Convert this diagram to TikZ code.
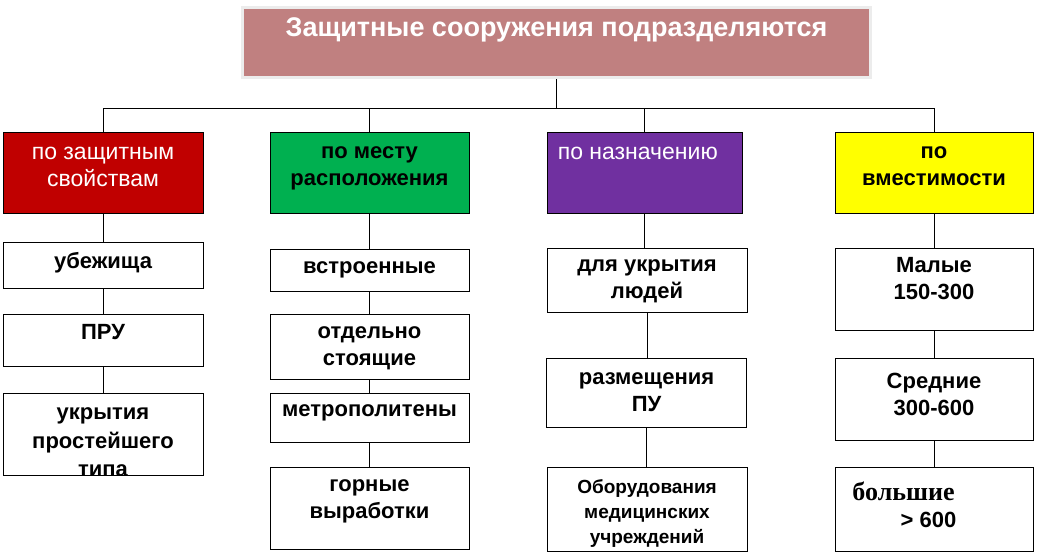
\documentclass[tikz,border=0pt]{standalone}
\usepackage{fontspec}
\setmainfont{Liberation Sans}
\newfontfamily\serifcyr{Liberation Serif}
\usetikzlibrary{positioning}
\definecolor{titlered}{HTML}{C08080}
\definecolor{hdred}{HTML}{C00000}
\definecolor{hdgreen}{HTML}{00B050}
\definecolor{hdpurple}{HTML}{7030A0}
\definecolor{hdyellow}{HTML}{FFFF00}

\begin{document}
\begin{tikzpicture}[x=1pt, y=-1pt,
	box/.style={draw, line width=0.8pt, minimum width=200pt, inner sep=0pt},
	txt/.style={align=center, inner sep=0pt, font=\bfseries\fontsize{22}{27}\selectfont},
	head/.style={align=center, inner sep=0pt, text=white, font=\fontsize{23}{27}\selectfont},
	link/.style={line width=0.8pt}]
		\useasboundingbox (0,0) rectangle (1037,552);
%		title
		\node[draw=gray!15, line width=3pt, fill=titlered, minimum width=628pt, minimum height=70pt] (title) at (556.5,42.5) {};
		\node[below=11pt of title.north, inner sep=0pt, text=white, font=\bfseries\fontsize{27}{32}\selectfont] (title-t) {Защитные сооружения подразделяются};
%		groups
		\node[box, fill=hdred, minimum height=81pt] (prot) at (103,172.5) {};
		\node[head, below=15pt of prot.north] (prot-t) {по защитным\\свойствам};
		\node[box, fill=hdgreen, minimum width=199pt, minimum height=81pt] (place) at (369.5,172.5) {};
		\node[txt, below=15pt of place.north] (place-t) {по месту\\расположения};
		\node[box, fill=hdpurple, minimum width=195pt, minimum height=81pt] (purp) at (644.5,172.5) {};
		\node[head, below right=15pt and 11pt of purp.north west] (purp-t) {по назначению};
		\node[box, fill=hdyellow, minimum width=198pt, minimum height=81pt] (cap) at (934,172.5) {};
		\node[txt, below=15pt of cap.north] (cap-t) {по\\вместимости};
%		by protection
		\node[box, minimum height=46pt] (shelter) at (103,265) {};
		\node[txt, below=11pt of shelter.north] (shelter-t) {убежища};
		\node[box, minimum height=52pt] (pru) at (103,340) {};
		\node[txt, below=11pt of pru.north] (pru-t) {ПРУ};
		\node[box, minimum height=82pt] (simple) at (103,434) {};
		\begin{scope}
			\clip (simple.south west) rectangle (simple.north east);
			\node[txt, below=15pt of simple.north, font=\bfseries\fontsize{22}{28.5}\selectfont] (simple-t) {укрытия\\простейшего\\типа};
		\end{scope}
%		by location
		\node[box, minimum width=199pt, minimum height=42pt] (builtin) at (369.5,270) {};
		\node[txt, below=13pt of builtin.north] (builtin-t) {встроенные};
		\node[box, minimum width=199pt, minimum height=65pt] (detached) at (369.5,346.5) {};
		\node[txt, below=13pt of detached.north] (detached-t) {отдельно\\стоящие};
		\node[box, minimum width=199pt, minimum height=49pt] (metro) at (369.5,417.5) {};
		\node[txt, below=12pt of metro.north] (metro-t) {метрополитены};
		\node[box, minimum width=199pt, minimum height=82pt] (mine) at (369.5,508) {};
		\node[txt, below=13pt of mine.north] (mine-t) {горные\\выработки};
%		by purpose
		\node[box, minimum height=64pt] (people) at (647,280) {};
		\node[txt, below=12pt of people.north] (people-t) {для укрытия\\людей};
		\node[box, minimum height=69pt] (control) at (646.5,392.5) {};
		\node[txt, below=15pt of control.north] (control-t) {размещения\\ПУ};
		\node[box, minimum height=84pt] (medical) at (647,509) {};
		\node[txt, below=13pt of medical.north, font=\bfseries\fontsize{19}{25}\selectfont] (medical-t) {Оборудования\\медицинских\\учреждений};
%		by capacity
		\node[box, minimum width=198pt, minimum height=82pt] (small) at (934,289) {};
		\node[txt, below=10pt of small.north] (small-t) {Малые\\150-300};
		\node[box, minimum width=198pt, minimum height=82pt] (medium) at (934,399) {};
		\node[txt, below=15pt of medium.north] (medium-t) {Средние\\300-600};
		\node[box, minimum width=198pt, minimum height=84pt] (large) at (934,509) {};
		\node[txt, below=15pt of large.north, xshift=-5.5pt] (large-t) {{\serifcyr\fontsize{26}{27}\selectfont большие}\hspace*{50pt}\\> 600};
%		connectors
		\coordinate (bus) at (0,108);
		\draw[link] (title) -- (title |- bus);
		\draw[link] (prot) -- (prot |- bus) -| (cap);
		\draw[link] (place) -- (place |- bus);
		\draw[link] (purp) -- (purp |- bus);
		\foreach \a/\b in {prot/shelter, shelter/pru, pru/simple, place/builtin, builtin/detached, detached/metro, metro/mine, purp/people, people/control, control/medical, cap/small, small/medium, medium/large}
			\draw[link] (\a.south) -- (\a.south |- \b.north);
	\end{tikzpicture}
\end{document}
